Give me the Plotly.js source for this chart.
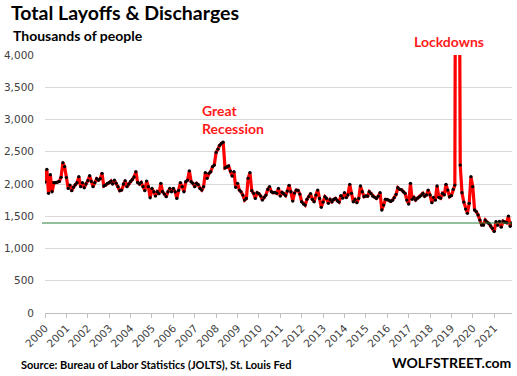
<!DOCTYPE html>
<html><head><meta charset="utf-8">
<script src="https://cdn.plot.ly/plotly-3.0.1.min.js"></script>
<style>html,body{margin:0;padding:0;background:#fff}#chart{width:517px;height:376px}</style>
</head><body><div id="chart"></div>
<script>
// Tick labels on the x axis (one per year)
const tickYears = ['2000','2001','2002','2003','2004','2005','2006','2007','2008','2009','2010',
                   '2011','2012','2013','2014','2015','2016','2017','2018','2019','2020','2021'];
// Monthly series start (year, month index 0 = Jan)
const startYear = 2000;
const startMonth = 0;
// Y axis gridline values and labels
const yTickValues = [0, 500, 1000, 1500, 2000, 2500, 3000, 3500, 4000];
const yTickLabels = ['0', '500', '1,000', '1,500', '2,000', '2,500', '3,000', '3,500', '4,000'];
// Total layoffs & discharges, thousands, monthly
const layoffs = [
  2030, 2227, 1855, 2144, 1880, 2020, 2020, 2030, 2040, 2103, 2330, 2268,
  2100, 1932, 1984, 1896, 1950, 1990, 2020, 2113, 1958, 2020, 1942, 2000,
  2051, 2128, 2040, 1958, 2020, 2082, 2060, 2082, 2165, 1969, 1984, 2010,
  2020, 2046, 2000, 2060, 2010, 1958, 1896, 1906, 2000, 2051, 1958, 2000,
  2040, 2070, 2110, 2190, 2025, 2000, 2025, 1958, 1896, 2046, 1958, 1787,
  1932, 1880, 1813, 1880, 1850, 2010, 1880, 1844, 1803, 1880, 1932, 1880,
  1930, 1880, 1777, 1900, 2020, 1958, 1880, 2035, 2061, 2205, 2035, 2010,
  1958, 2010, 1990, 1932, 1906, 1958, 2175, 2088, 2165, 2190, 2268, 2294,
  2490, 2540, 2600, 2630, 2650, 2250, 2265, 2279, 2200, 2124, 2190, 1950,
  2010, 1906, 1880, 1829, 1751, 1777, 2088, 2175, 1896, 1855, 1777, 1865,
  1850, 1813, 1751, 1793, 1829, 1917, 1958, 1880, 1865, 1870, 1855, 1932,
  1813, 1870, 1850, 1820, 1890, 1980, 1880, 1736, 1860, 1906, 1900, 1844,
  1725, 1690, 1674, 1762, 1803, 1850, 1762, 1725, 1829, 1906, 1777, 1638,
  1720, 1803, 1777, 1700, 1760, 1725, 1760, 1777, 1740, 1720, 1820, 1780,
  1865, 1790, 1830, 1995, 1855, 1725, 1760, 1710, 1777, 1969, 1880, 1803,
  1815, 1812, 1880, 1850, 1810, 1793, 1777, 1810, 1865, 1597, 1674, 1762,
  1760, 1745, 1730, 1750, 1790, 1840, 1942, 1917, 1910, 1880, 1855, 1751,
  1690, 2010, 1762, 1793, 1751, 1780, 1800, 1820, 1855, 1810, 1830, 1906,
  1830, 1710, 1793, 1750, 1969, 1793, 1780, 1855, 1830, 1995, 1906, 1803,
  1820, 1917, 1984, 13000, 9500, 2294, 1865, 1720, 1612, 1545, 1700, 2113,
  1958, 1597, 1570, 1519, 1441, 1364, 1364, 1441, 1410, 1390, 1349, 1313,
  1265, 1415, 1360, 1420, 1330, 1425, 1410, 1400, 1503, 1345, 1395
];

function monthDate(i) {
  const d = new Date(Date.UTC(startYear, startMonth + i, 1));
  return d.toISOString().slice(0, 10);
}
const dates = layoffs.map((_, i) => monthDate(i));
const tickDates = tickYears.map(y => y + '-01-01');
const lastValue = layoffs[layoffs.length - 1];

const trace = {
  x: dates, y: layoffs, type: 'scatter', mode: 'lines+markers',
  line: {color: '#ff0000', width: 3.2},
  marker: {color: '#000000', size: 3.3},
  hoverinfo: 'skip'
};

const W = 517, H = 376, L = 45, R = 5, T = 55, B = 63;
const pw = W - L - R, ph = H - T - B;
const px = x => (x - L) / pw;
const py = y => (H - B - y) / ph;

const layout = {
  width: W, height: H,
  margin: {l: L, r: R, t: T, b: B, pad: 0},
  paper_bgcolor: '#ffffff', plot_bgcolor: '#ffffff',
  showlegend: false,
  title: {
    text: '<b>Total Layoffs &amp; Discharges</b>',
    font: {family: 'Lato', size: 19.5, color: '#000000'},
    xref: 'container', yref: 'container',
    x: 11 / W, xanchor: 'left', y: 1 - 13 / H, yanchor: 'middle'
  },
  xaxis: {
    type: 'date',
    range: [dates[0], dates[dates.length - 1]],
    tickvals: tickDates, ticktext: tickYears,
    tickangle: -45,
    ticks: 'outside', ticklen: 4, tickcolor: '#bfbfbf', tickwidth: 1,
    showgrid: false, zeroline: false,
    showline: true, linecolor: '#bfbfbf', linewidth: 1,
    tickfont: {family: 'DejaVu Sans', size: 10.5, color: '#404040'},
    fixedrange: true
  },
  yaxis: {
    range: [0, 4000],
    tickvals: yTickValues, ticktext: yTickLabels,
    showgrid: true, gridcolor: '#d9d9d9', gridwidth: 1,
    zeroline: false, showline: false, ticks: '',
    ticklabelstandoff: 10,
    tickfont: {family: 'DejaVu Sans', size: 10.5, color: '#404040'},
    fixedrange: true
  },
  shapes: [{
    type: 'line', xref: 'paper', x0: px(42), x1: 1, yref: 'y', y0: lastValue, y1: lastValue,
    line: {color: '#24803a', width: 1.1}
  }],
  annotations: [
    {text: '<b>Thousands of people</b>', xref: 'paper', yref: 'paper',
     x: px(11), y: py(35), xanchor: 'left', yanchor: 'middle', showarrow: false,
     font: {family: 'Lato', size: 14, color: '#000000'}},
    {text: '<b>Great<br>Recession</b>', xref: 'paper', yref: 'paper', align: 'left',
     x: px(200), y: py(119), xanchor: 'left', yanchor: 'middle', showarrow: false,
     font: {family: 'Lato', size: 14, color: '#ff1a1a'}},
    {text: '<b>Lockdowns</b>', xref: 'paper', yref: 'paper',
     x: px(448.5), y: py(42), xanchor: 'center', yanchor: 'middle', showarrow: false,
     font: {family: 'Lato', size: 14, color: '#ff1a1a'}},
    {text: '<b>Source: Bureau of Labor Statistics (JOLTS), St. Louis Fed</b>', xref: 'paper', yref: 'paper',
     x: px(19), y: py(364), xanchor: 'left', yanchor: 'middle', showarrow: false,
     font: {family: 'Lato', size: 11, color: '#000000'}},
    {text: '<b>WOLFSTREET.com</b>', xref: 'paper', yref: 'paper',
     x: px(513), y: py(362), xanchor: 'right', yanchor: 'middle', showarrow: false,
     font: {family: 'Lato', size: 14, color: '#000000'}}
  ]
};

Plotly.newPlot('chart', [trace], layout, {displayModeBar: false, staticPlot: true});
</script>
</body></html>
